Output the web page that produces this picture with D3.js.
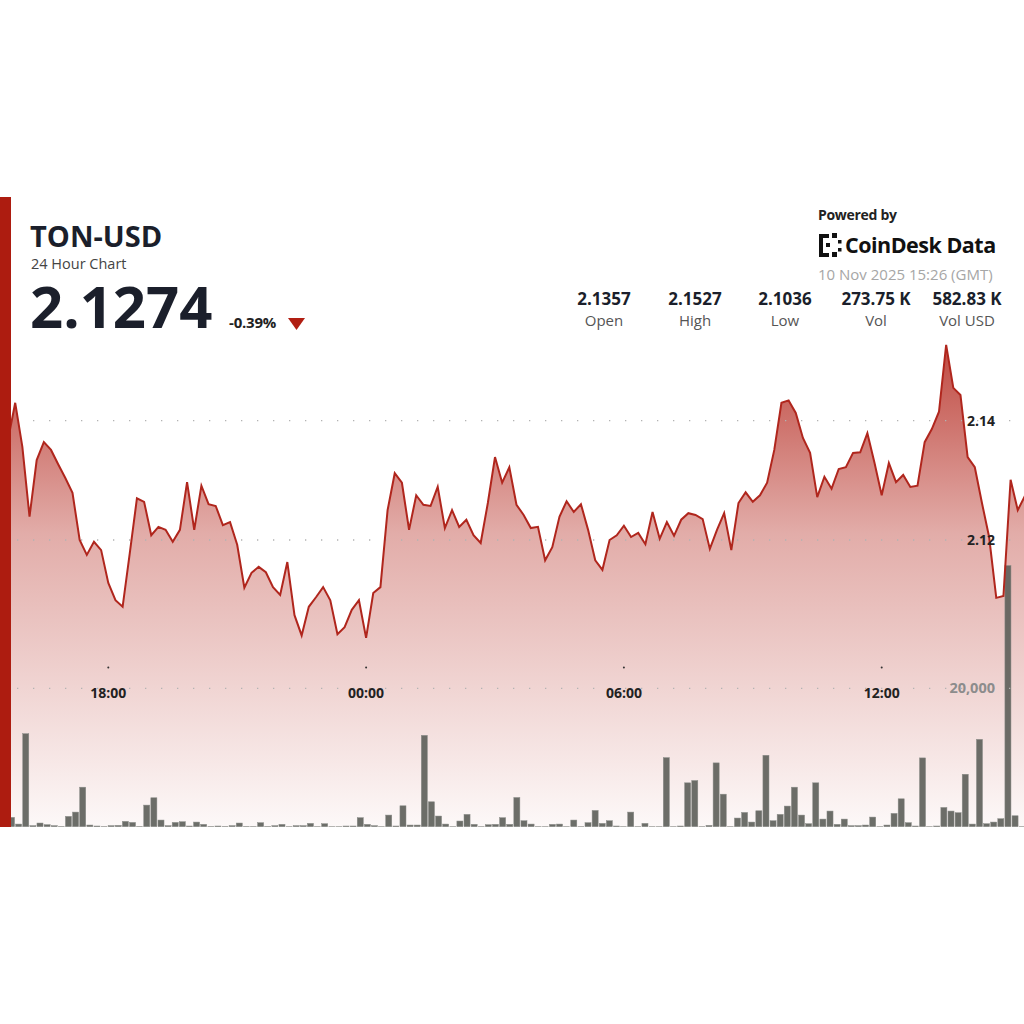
<!DOCTYPE html>
<html>
<head>
<meta charset="utf-8">
<script src="https://cdn.jsdelivr.net/npm/d3@7.9.0/dist/d3.min.js"></script>
<style>
  html, body { margin: 0; padding: 0; background: #fff; }
  svg { display: block; font-family: "Open Sans", "Noto Sans", sans-serif; }
</style>
</head>
<body>
<svg id="chart" width="1024" height="1024"></svg>
<script>
// ---- data (10-minute candles, first one at 15:40 on 9 Nov 2025) ----
const startTime = new Date(2025, 10, 9, 15, 40);
const stepMinutes = 10;

const prices = [
  2.1368, 2.1430, 2.1356, 2.1239, 2.1334, 2.1364, 2.1351, 2.1327, 2.1304, 2.1279,
  2.1200, 2.1175, 2.1197, 2.1183, 2.1128, 2.1099, 2.1088, 2.1178, 2.1270, 2.1264,
  2.1208, 2.1222, 2.1217, 2.1197, 2.1217, 2.1297, 2.1217, 2.1291, 2.1260, 2.1257,
  2.1225, 2.1230, 2.1192, 2.1120, 2.1145, 2.1155, 2.1146, 2.1121, 2.1108, 2.1163,
  2.1074, 2.1040, 2.1088, 2.1104, 2.1121, 2.1099, 2.1042, 2.1054, 2.1083, 2.1099,
  2.1036, 2.1111, 2.1121, 2.1250, 2.1312, 2.1296, 2.1217, 2.1275, 2.1259, 2.1257,
  2.1289, 2.1220, 2.1250, 2.1222, 2.1234, 2.1208, 2.1195, 2.1262, 2.1339, 2.1296,
  2.1322, 2.1259, 2.1242, 2.1220, 2.1222, 2.1166, 2.1188, 2.1239, 2.1265, 2.1247,
  2.1260, 2.1217, 2.1166, 2.1150, 2.1200, 2.1208, 2.1224, 2.1205, 2.1212, 2.1193,
  2.1247, 2.1202, 2.1230, 2.1207, 2.1234, 2.1245, 2.1242, 2.1235, 2.1185, 2.1217,
  2.1245, 2.1183, 2.1262, 2.1280, 2.1264, 2.1275, 2.1296, 2.1351, 2.1430, 2.1434,
  2.1413, 2.1371, 2.1346, 2.1272, 2.1306, 2.1286, 2.1319, 2.1322, 2.1346, 2.1347,
  2.1379, 2.1329, 2.1275, 2.1329, 2.1297, 2.1309, 2.1289, 2.1291, 2.1364, 2.1386,
  2.1415, 2.1527, 2.1455, 2.1443, 2.1339, 2.1322, 2.1262, 2.1205, 2.1103, 2.1106,
  2.1301, 2.1250, 2.1274
];

const volumes = [
  1350, 380, 13440, 150, 530, 290, 150, 50, 1490, 2110,
  5710, 240, 100, 40, 150, 190, 770, 620, 50, 3120,
  4180, 960, 150, 620, 720, 100, 670, 340, 50, 100,
  50, 150, 530, 50, 40, 580, 50, 150, 340, 30,
  150, 150, 480, 30, 430, 30, 30, 100, 100, 1300,
  340, 150, 30, 1680, 100, 3020, 240, 240, 13200, 3600,
  1540, 380, 30, 820, 1780, 340, 30, 290, 340, 1300,
  340, 4220, 860, 380, 30, 30, 340, 380, 30, 960,
  30, 580, 2350, 480, 860, 100, 30, 2110, 30, 480,
  30, 30, 9980, 30, 100, 6340, 6670, 30, 190, 9220,
  4700, 30, 1250, 2060, 670, 2300, 10320, 860, 1780, 2980,
  5710, 1680, 430, 6340, 1100, 2260, 340, 1100, 150, 150,
  240, 1390, 30, 240, 1920, 4030, 580, 100, 9940, 30,
  100, 2780, 2260, 2020, 7580, 380, 12620, 430, 670, 1150,
  37740, 1580, 30
];

const priceTicks = [2.12, 2.14];
const volumeTicks = [20000];
const timeTicks = [
  new Date(2025, 10, 9, 18, 0), new Date(2025, 10, 10, 0, 0),
  new Date(2025, 10, 10, 6, 0), new Date(2025, 10, 10, 12, 0)
];

const stats = [
  { value: "2.1357", label: "Open" },
  { value: "2.1527", label: "High" },
  { value: "2.1036", label: "Low" },
  { value: "273.75 K", label: "Vol" },
  { value: "582.83 K", label: "Vol USD" }
];

const rows = prices.map((p, i) => ({
  time: new Date(startTime.getTime() + i * stepMinutes * 60000),
  price: p,
  volume: volumes[i]
}));

// ---- layout ----
const svg = d3.select("#chart");
const plotTop = 197, plotBottom = 827, plotLeft = 11, plotRight = 1024;

const x = d3.scaleTime()
  .domain([timeTicks[0], timeTicks[3]])
  .range([108.3, 881.7]);

const xBar = d3.scaleBand()
  .domain(rows.map(d => +d.time))
  .range([8.5, 1025.2])
  .paddingInner(0.15);

const y = d3.scaleLinear().domain([2.12, 2.14]).range([540, 420.7]);
const yVol = d3.scaleLinear().domain([0, 20000]).range([826.7, 688.3]);

const defs = svg.append("defs");
defs.append("clipPath").attr("id", "plot")
  .append("rect").attr("x", plotLeft).attr("y", plotTop)
  .attr("width", plotRight - plotLeft).attr("height", plotBottom - plotTop);

const grad = defs.append("linearGradient").attr("id", "fade")
  .attr("gradientUnits", "userSpaceOnUse")
  .attr("x1", 0).attr("x2", 0).attr("y1", 338).attr("y2", plotBottom);
grad.append("stop").attr("offset", "0%").attr("stop-color", "#b3261c").attr("stop-opacity", 0.85);
grad.append("stop").attr("offset", "40%").attr("stop-color", "#b3261c").attr("stop-opacity", 0.38);
grad.append("stop").attr("offset", "100%").attr("stop-color", "#b3261c").attr("stop-opacity", 0.03);

const plot = svg.append("g").attr("clip-path", "url(#plot)");

// price area (under the bars so they stay grey)
const area = d3.area()
  .x(d => x(d.time))
  .y0(plotBottom)
  .y1(d => y(d.price));

const line = d3.line()
  .x(d => x(d.time))
  .y(d => y(d.price));

plot.append("path")
  .datum(rows)
  .attr("d", area)
  .attr("fill", "url(#fade)");

// volume bars
plot.append("g").selectAll("rect")
  .data(rows)
  .join("rect")
  .attr("x", d => xBar(+d.time))
  .attr("width", xBar.bandwidth())
  .attr("y", d => yVol(d.volume))
  .attr("height", d => yVol(0) - yVol(d.volume))
  .attr("fill", "#5c5e59")
  .attr("fill-opacity", 0.9)
  .attr("stroke", "#8a8c88")
  .attr("stroke-width", 0.5);

// dotted grid lines
const gridYs = priceTicks.map(v => y(v)).concat(volumeTicks.map(v => yVol(v)));
plot.append("g").selectAll("line")
  .data(gridYs)
  .join("line")
  .attr("x1", 17).attr("x2", plotRight)
  .attr("y1", d => d).attr("y2", d => d)
  .attr("stroke", "#b3b3b3")
  .attr("stroke-width", 1.3)
  .attr("stroke-dasharray", "1.3 14.7");

plot.append("path")
  .datum(rows)
  .attr("d", line)
  .attr("fill", "none")
  .attr("stroke", "#b0261d")
  .attr("stroke-width", 2)
  .attr("stroke-linejoin", "miter");

// time axis
const xAxis = svg.append("g");
xAxis.selectAll("circle")
  .data(timeTicks)
  .join("circle")
  .attr("cx", d => x(d))
  .attr("cy", 667.5)
  .attr("r", 1)
  .attr("fill", "#333");
xAxis.selectAll("text")
  .data(timeTicks)
  .join("text")
  .attr("x", d => x(d))
  .attr("y", 697.5)
  .attr("text-anchor", "middle")
  .attr("font-size", 14)
  .attr("font-weight", 700)
  .attr("fill", "#222")
  .text(d3.timeFormat("%H:%M"));

// price / volume labels
svg.append("g").selectAll("text")
  .data(priceTicks)
  .join("text")
  .attr("x", 995)
  .attr("y", d => y(d) + 5)
  .attr("text-anchor", "end")
  .attr("font-size", 14)
  .attr("font-weight", 700)
  .attr("fill", "#222")
  .text(d => d.toFixed(2));

svg.append("g").selectAll("text")
  .data(volumeTicks)
  .join("text")
  .attr("x", 995)
  .attr("y", d => yVol(d) + 5)
  .attr("text-anchor", "end")
  .attr("font-size", 14.5)
  .attr("font-weight", 700)
  .attr("fill", "#8c8c8c")
  .text(d => d3.format(",")(d));

// red side bar
svg.append("rect")
  .attr("x", 0).attr("y", plotTop)
  .attr("width", plotLeft).attr("height", plotBottom - plotTop)
  .attr("fill", "#ad1c10");

// ---- header ----
const head = svg.append("g").attr("fill", "#1b1f2b");
head.append("text").attr("x", 30).attr("y", 247)
  .attr("font-size", 29).attr("font-weight", 700).text("TON-USD");
head.append("text").attr("x", 31).attr("y", 269)
  .attr("font-size", 14.5).attr("fill", "#444").text("24 Hour Chart");
head.append("text").attr("x", 30).attr("y", 328)
  .attr("font-size", 58).attr("font-weight", 700).text("2.1274");
head.append("text").attr("x", 229).attr("y", 328)
  .attr("font-size", 15).attr("font-weight", 700).attr("fill", "#222")
  .attr("letter-spacing", -0.2).text("-0.39%");
head.append("path")
  .attr("d", "M288,318 L305,318 L296.5,330 Z")
  .attr("fill", "#b11e12");

// powered by block
const brand = svg.append("g");
brand.append("text").attr("x", 818).attr("y", 220)
  .attr("font-size", 14).attr("font-weight", 700).attr("fill", "#222")
  .attr("letter-spacing", -0.3).text("Powered by");

const logo = brand.append("g").attr("fill", "#111");
[[819, 234, 4, 23], [819, 234, 10, 4], [819, 253, 10, 4],
 [832, 233, 5, 5], [832, 252, 5, 5], [826, 243, 4, 4],
 [838, 240, 3.5, 3.5], [838, 248, 3.5, 3.5]].forEach(r => {
  logo.append("rect").attr("x", r[0]).attr("y", r[1]).attr("width", r[2]).attr("height", r[3]);
});
brand.append("text").attr("x", 845).attr("y", 253)
  .attr("font-size", 21.5).attr("font-weight", 700).attr("fill", "#111")
  .attr("letter-spacing", -0.5).text("CoinDesk Data");
brand.append("text").attr("x", 818).attr("y", 280)
  .attr("font-size", 15).attr("fill", "#a6a6a6").text("10 Nov 2025 15:26 (GMT)");

// stats row
const statX = [604, 695, 785, 876, 967];
const st = svg.append("g").selectAll("g")
  .data(stats)
  .join("g")
  .attr("transform", (d, i) => `translate(${statX[i]},0)`);
st.append("text").attr("y", 305).attr("text-anchor", "middle")
  .attr("font-size", 17).attr("font-weight", 700).attr("fill", "#1b1f2b")
  .text(d => d.value);
st.append("text").attr("y", 326).attr("text-anchor", "middle")
  .attr("font-size", 15).attr("fill", "#555")
  .text(d => d.label);
</script>
</body>
</html>
